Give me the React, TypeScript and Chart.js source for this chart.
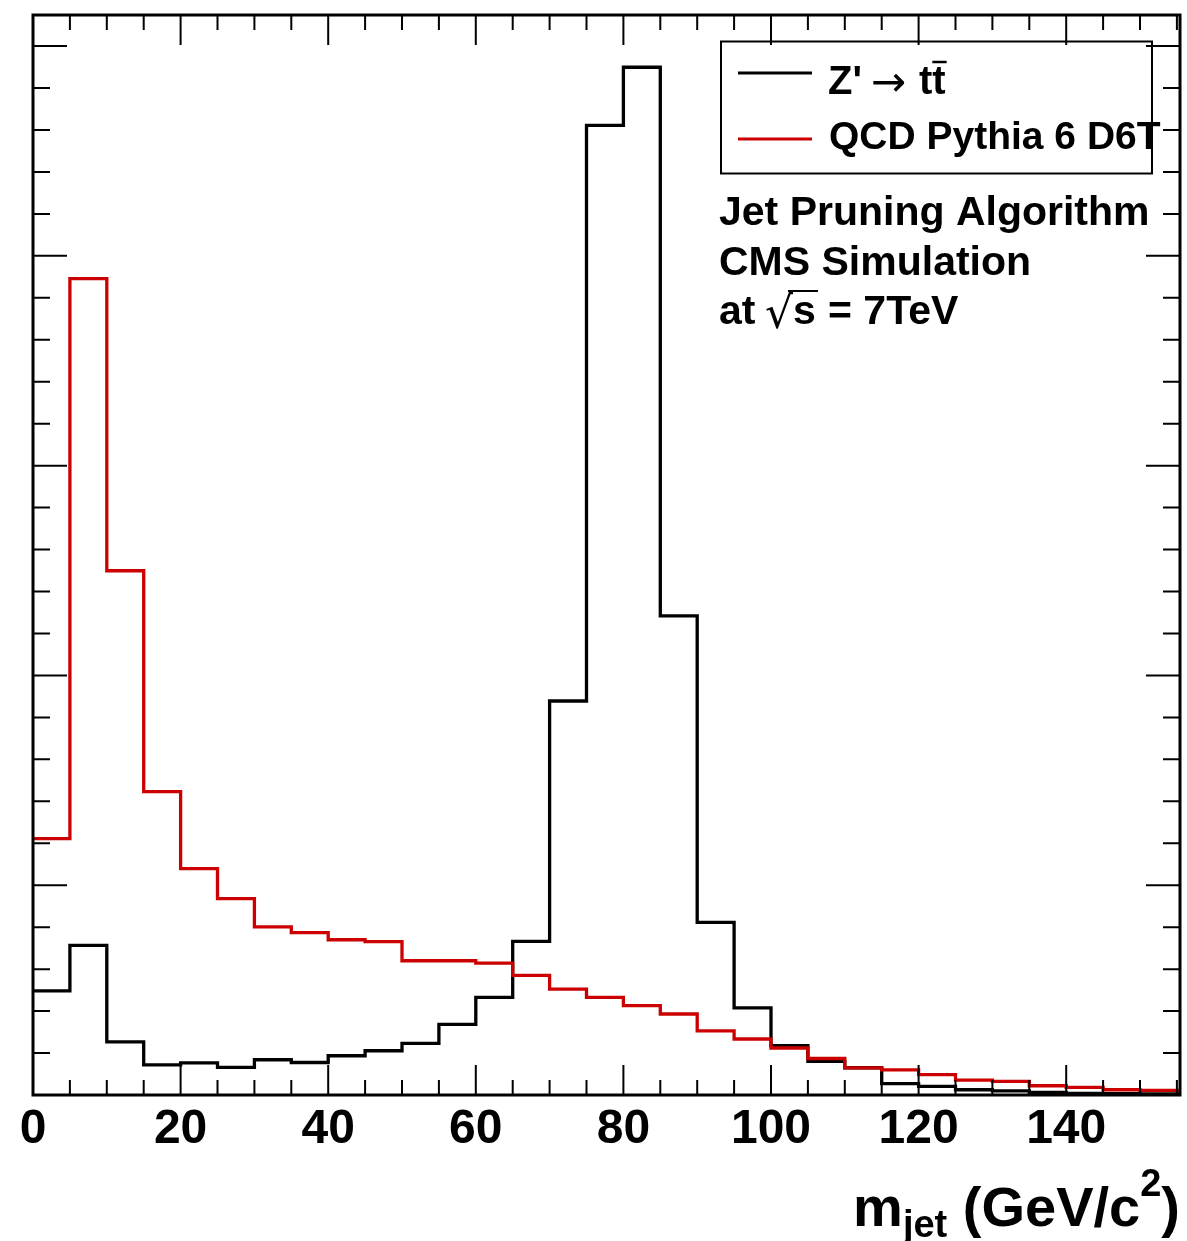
import React, { useEffect, useRef } from 'react';
import { Chart, registerables } from 'chart.js';

Chart.register(...registerables);

// ---- data (arbitrary units, 1 unit = one major y tick) ----
const binLowEdges = [0, 5, 10, 15, 20, 25, 30, 35, 40, 45, 50, 55, 60, 65, 70, 75, 80, 85, 90, 95, 100, 105, 110, 115, 120, 125, 130, 135, 140, 145, 150, 155];
const histUpperEdge = 160;
const zprimeTT = [0.496, 0.713, 0.253, 0.144, 0.153, 0.132, 0.168, 0.155, 0.187, 0.211, 0.246, 0.337, 0.465, 0.732, 1.878, 4.622, 4.899, 2.284, 0.823, 0.415, 0.235, 0.160, 0.130, 0.054, 0.041, 0.025, 0.020, 0.012, 0.008, 0.006, 0.005, 0.004];
const qcdPythia = [1.222, 3.891, 2.499, 1.446, 1.079, 0.936, 0.801, 0.774, 0.740, 0.731, 0.640, 0.640, 0.629, 0.570, 0.505, 0.465, 0.426, 0.386, 0.306, 0.267, 0.224, 0.174, 0.129, 0.120, 0.097, 0.071, 0.065, 0.044, 0.036, 0.025, 0.022, 0.020];
const xTickLabels = ['0', '20', '40', '60', '80', '100', '120', '140'];
const seriesNames = ["Z' \u2192 tt\u0304", 'QCD Pythia 6 D6T'];
const infoLines = ['Jet Pruning Algorithm', 'CMS Simulation'];
const xRange = [0, 155.42];
const yRange = [0, 5.148];

const FONT = '"Liberation Sans", Arial, Helvetica, sans-serif';
const RED = '#cc0000';

function toSteps(values: number[]) {
  const pts = binLowEdges.map((x, i) => ({ x, y: values[i] }));
  pts.push({ x: histUpperEdge, y: values[values.length - 1] });
  return pts;
}

const rootFrame = {
  id: 'rootFrame',
  afterDraw(chart: any) {
    const { ctx, chartArea, scales } = chart;
    const xs = scales.x;
    const ys = scales.y;
    const { left, top, right, bottom } = chartArea;
    ctx.save();
    ctx.strokeStyle = '#000';
    ctx.fillStyle = '#000';
    // inner tick marks (ROOT style)
    ctx.lineWidth = 2;
    ctx.beginPath();
    for (let v = 0; v <= xs.max + 1e-9; v += 5) {
      const px = xs.getPixelForValue(v);
      const len = v % 20 === 0 ? 30 : 15;
      ctx.moveTo(px, bottom); ctx.lineTo(px, bottom - len);
      ctx.moveTo(px, top); ctx.lineTo(px, top + len);
    }
    for (let k = 0; k * 0.2 <= ys.max + 1e-9; k++) {
      const py = ys.getPixelForValue(k * 0.2);
      const len = k % 5 === 0 ? 34 : 17;
      ctx.moveTo(left, py); ctx.lineTo(left + len, py);
      ctx.moveTo(right, py); ctx.lineTo(right - len, py);
    }
    ctx.stroke();
    ctx.lineWidth = 3;
    ctx.strokeRect(left, top, right - left, bottom - top);

    // legend box
    ctx.lineWidth = 2;
    ctx.strokeRect(721, 41.5, 431, 132);
    ctx.lineWidth = 3;
    ctx.beginPath(); ctx.strokeStyle = '#000'; ctx.moveTo(738, 73); ctx.lineTo(812, 73); ctx.stroke();
    ctx.beginPath(); ctx.strokeStyle = RED; ctx.moveTo(738, 139); ctx.lineTo(812, 139); ctx.stroke();
    ctx.strokeStyle = '#000';
    ctx.textAlign = 'left';
    ctx.textBaseline = 'alphabetic';
    // "Z' -> t tbar"
    ctx.font = `bold 40px ${FONT}`;
    ctx.fillText("Z'", 828, 94);
    ctx.font = `42px "DejaVu Sans", ${FONT}`;
    ctx.fillText('\u2192', 871, 96);
    ctx.font = `bold 40px ${FONT}`;
    ctx.fillText('tt', 919, 94);
    const tw = ctx.measureText('t').width;
    ctx.lineWidth = 2.5;
    ctx.beginPath(); ctx.moveTo(919 + tw, 62); ctx.lineTo(919 + 2 * tw + 1, 62); ctx.stroke();
    ctx.font = `bold 39px ${FONT}`;
    ctx.fillText(seriesNames[1], 829, 149);

    // info text
    ctx.font = `bold 41px ${FONT}`;
    ctx.fillText(infoLines[0], 719, 225);
    ctx.fillText(infoLines[1], 719, 275);
    ctx.fillText('at', 719, 324);
    ctx.font = `44px "DejaVu Sans", ${FONT}`;
    ctx.fillText('\u221A', 765, 328);
    ctx.font = `bold 41px ${FONT}`;
    ctx.fillText('s', 793, 324);
    ctx.lineWidth = 2;
    ctx.beginPath(); ctx.moveTo(788, 291); ctx.lineTo(818, 291); ctx.stroke();
    ctx.fillText('= 7TeV', 828, 324);

    // axis title m_jet (GeV/c^2), right aligned to the frame
    const big = `bold 56px ${FONT}`;
    const small = `bold 38px ${FONT}`;
    const pieces: [string, string, number][] = [
      ['m', big, 0], ['jet', small, 11], [' (GeV/c', big, 0], ['2', small, -30], [')', big, 0],
    ];
    let total = 0;
    for (const [t, f] of pieces) { ctx.font = f; total += ctx.measureText(t).width; }
    let cx = right - total;
    for (const [t, f, dy] of pieces) {
      ctx.font = f;
      ctx.fillText(t, cx, 1226 + dy);
      cx += ctx.measureText(t).width;
    }
    ctx.restore();
  },
};

export default function App() {
  const ref = useRef<HTMLCanvasElement | null>(null);
  useEffect(() => {
    if (!ref.current) return;
    const chart = new Chart(ref.current, {
      type: 'line',
      data: {
        datasets: [
          {
            label: seriesNames[1],
            data: toSteps(qcdPythia),
            borderColor: RED,
            borderWidth: 3.3,
            stepped: 'before',
            pointRadius: 0,
            fill: false,
            order: 0,
          },
          {
            label: seriesNames[0],
            data: toSteps(zprimeTT),
            borderColor: '#000',
            borderWidth: 3.3,
            stepped: 'before',
            pointRadius: 0,
            fill: false,
            order: 1,
          },
        ],
      },
      options: {
        animation: false,
        responsive: false,
        maintainAspectRatio: false,
        events: [],
        layout: { padding: { left: 33, top: 15, right: 7, bottom: 0 } },
        plugins: { legend: { display: false }, tooltip: { enabled: false } },
        scales: {
          x: {
            type: 'linear',
            min: xRange[0],
            max: xRange[1],
            position: 'bottom',
            afterFit: (s: any) => { s.height = 146; },
            grid: { display: false, drawTicks: false },
            border: { display: false },
            ticks: {
              stepSize: 20,
              includeBounds: false,
              autoSkip: false,
              maxRotation: 0,
              padding: 6,
              color: '#000',
              font: { family: FONT, size: 48, weight: 'bold' },
              callback: (v: any) => (xTickLabels.includes(String(v)) ? String(v) : ''),
            },
          },
          y: { type: 'linear', display: false, min: yRange[0], max: yRange[1] },
        },
      } as any,
      plugins: [rootFrame],
    });
    return () => chart.destroy();
  }, []);
  return (
    <div style={{ position: 'absolute', left: 0, top: 0, width: 1187, height: 1241, background: '#fff' }}>
      <canvas ref={ref} width={1187} height={1241} style={{ display: 'block' }} />
    </div>
  );
}
